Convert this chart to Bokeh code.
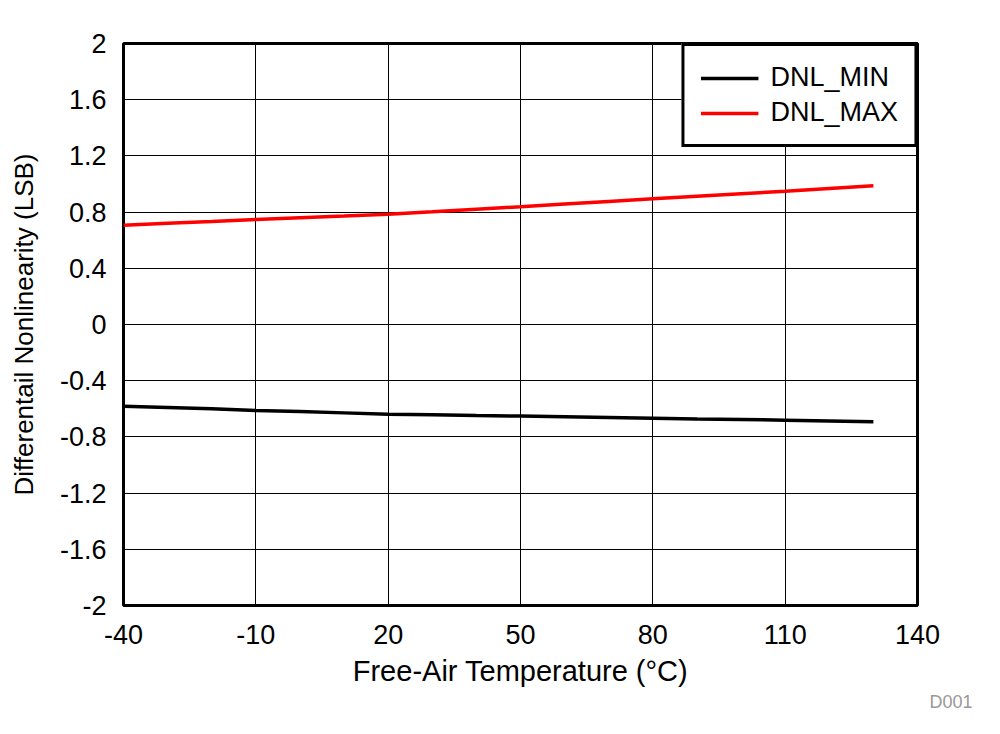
from bokeh.plotting import figure
from bokeh.models import Legend, LegendItem, Title, FixedTicker
from bokeh.embed import file_html
from bokeh.resources import INLINE

temps = [-40, -30, -20, -10, 0, 10, 20, 30, 40, 50, 60, 70, 80, 90, 100, 110, 120, 130]
dnl_min = [-0.581, -0.590, -0.600, -0.612, -0.620, -0.629, -0.638, -0.643, -0.648,
           -0.652, -0.657, -0.662, -0.667, -0.672, -0.676, -0.681, -0.687, -0.693]
dnl_max = [0.706, 0.720, 0.733, 0.747, 0.760, 0.772, 0.785, 0.802, 0.820,
           0.838, 0.857, 0.876, 0.895, 0.913, 0.931, 0.949, 0.968, 0.987]
x_ticks = [-40, -10, 20, 50, 80, 110, 140]
x_tick_labels = {-40: "-40", -10: "-10", 20: "20", 50: "50", 80: "80", 110: "110", 140: "140"}
y_ticks = [-2, -1.6, -1.2, -0.8, -0.4, 0, 0.4, 0.8, 1.2, 1.6, 2]
y_tick_labels = {-2: "-2", -1.6: "-1.6", -1.2: "-1.2", -0.8: "-0.8", -0.4: "-0.4", 0: "0",
                 0.4: "0.4", 0.8: "0.8", 1.2: "1.2", 1.6: "1.6", 2: "2"}

FONT = "Liberation Sans"

p = figure(width=991, height=725, x_range=(-40, 140), y_range=(-2, 2),
           output_backend="svg", toolbar_location=None,
           min_border_left=123, min_border_right=74, min_border_top=43, min_border_bottom=120)

p.outline_line_color = "black"
p.outline_line_width = 3

for ax in (p.xaxis[0], p.yaxis[0]):
    ax.axis_line_color = None
    ax.major_tick_line_color = None
    ax.minor_tick_line_color = None
    ax.major_label_text_font = FONT
    ax.major_label_text_font_size = "27px"
    ax.major_label_text_color = "black"
    ax.axis_label_text_font = FONT
    ax.axis_label_text_font_style = "normal"
    ax.axis_label_text_color = "black"

p.xaxis.ticker = FixedTicker(ticks=x_ticks)
p.yaxis.ticker = FixedTicker(ticks=y_ticks)
p.xaxis.major_label_overrides = x_tick_labels
p.yaxis.major_label_overrides = y_tick_labels
p.xaxis.major_label_standoff = 13
p.yaxis.major_label_standoff = 11
p.xaxis.axis_label = "Free-Air Temperature (\u00b0C)"
p.yaxis.axis_label = "Differentail Nonlinearity (LSB)"
p.xaxis.axis_label_text_font_size = "29px"
p.yaxis.axis_label_text_font_size = "26px"
p.xaxis.axis_label_standoff = 8
p.yaxis.axis_label_standoff = 18

p.xgrid.ticker = FixedTicker(ticks=x_ticks)
p.ygrid.ticker = FixedTicker(ticks=y_ticks)
p.grid.grid_line_color = "black"
p.grid.grid_line_width = 1
p.grid.grid_line_alpha = 1

r_min = p.line(temps, dnl_min, line_color="black", line_width=3.5)
r_max = p.line(temps, dnl_max, line_color="#ff0000", line_width=3.5)

legend = Legend(items=[LegendItem(label="DNL_MIN", renderers=[r_min]),
                       LegendItem(label="DNL_MAX", renderers=[r_max])],
                location="top_right", margin=0, padding=16, spacing=4,
                glyph_width=58, glyph_height=28, label_height=28, label_standoff=12,
                label_text_font=FONT, label_text_font_size="27px", label_text_color="black",
                border_line_color="black", border_line_width=3, border_line_alpha=1,
                background_fill_color="white", background_fill_alpha=1)
p.add_layout(legend, "center")

p.add_layout(Title(text="D001", align="right", offset=-55, standoff=0, text_font=FONT,
                   text_font_size="18px", text_font_style="normal",
                   text_color="#999999"), "below")

open("out.html", "w").write(file_html(p, INLINE))
